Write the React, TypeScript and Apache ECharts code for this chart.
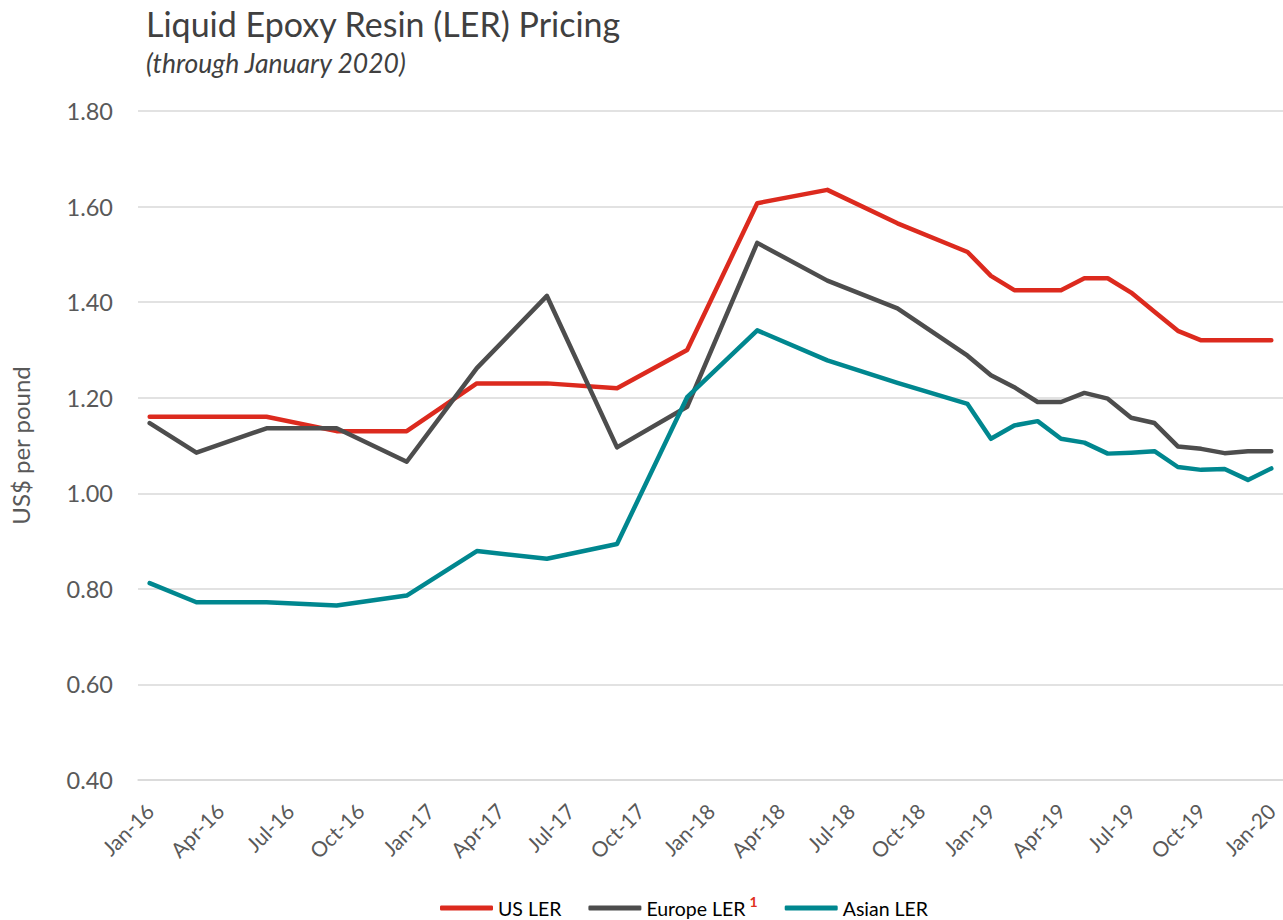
import React, { useEffect, useRef } from "react";
import * as echarts from "echarts";

const MONTH_NAMES = ["Jan", "Feb", "Mar", "Apr", "May", "Jun", "Jul", "Aug", "Sep", "Oct", "Nov", "Dec"];
// Monthly category axis Jan-16 .. Jan-20
const months: string[] = [];
for (let y = 16; y <= 20; y++) {
  for (let m = 0; m < 12; m++) {
    if (y === 20 && m > 0) break;
    months.push(`${MONTH_NAMES[m]}-${y}`);
  }
}

// Observation dates (quarterly through 2018, monthly in 2019)
const periods = [
  "Jan-16", "Mar-16", "Jun-16", "Sep-16", "Dec-16", "Mar-17", "Jun-17", "Sep-17", "Dec-17",
  "Mar-18", "Jun-18", "Sep-18", "Dec-18", "Jan-19", "Feb-19", "Mar-19", "Apr-19", "May-19",
  "Jun-19", "Jul-19", "Aug-19", "Sep-19", "Oct-19", "Nov-19", "Dec-19", "Jan-20",
];

const usLER = [
  1.16, 1.16, 1.16, 1.13, 1.13, 1.23, 1.23, 1.22, 1.3,
  1.607, 1.635, 1.565, 1.505, 1.455, 1.425, 1.425, 1.425, 1.45,
  1.45, 1.42, 1.38, 1.34, 1.32, 1.32, 1.32, 1.32,
];
const europeLER = [
  1.147, 1.085, 1.136, 1.136, 1.066, 1.262, 1.413, 1.096, 1.181,
  1.524, 1.445, 1.387, 1.288, 1.247, 1.222, 1.191, 1.191, 1.21,
  1.198, 1.158, 1.147, 1.098, 1.093, 1.084, 1.088, 1.088,
];
const asianLER = [
  0.812, 0.772, 0.772, 0.765, 0.786, 0.879, 0.863, 0.894, 1.201,
  1.341, 1.278, 1.231, 1.187, 1.114, 1.142, 1.151, 1.114, 1.106,
  1.083, 1.085, 1.088, 1.055, 1.049, 1.051, 1.028, 1.052,
];

const FONT = "Lato, 'Open Sans', sans-serif";
const TEXT = "#595959";
const GRID = "#d9d9d9";

export default function App() {
  const ref = useRef<HTMLDivElement>(null);
  useEffect(() => {
    if (!ref.current) return;
    const chart = echarts.init(ref.current, undefined, { renderer: "svg" });
    const mk = (name: string, vals: number[], color: string) => ({
      name,
      type: "line",
      data: periods.map((p, i) => [p, vals[i]]),
      symbol: "none",
      lineStyle: { color, width: 4.5, cap: "round", join: "round" },
      itemStyle: { color },
    });
    chart.setOption({
      animation: false,
      textStyle: { fontFamily: FONT },
      title: [
        {
          text: "Liquid Epoxy Resin (LER) Pricing",
          left: 141,
          top: 1,
          textStyle: { fontFamily: FONT, fontSize: 34, fontWeight: "normal", color: "#404040" },
        },
        {
          text: "(through January 2020)",
          left: 141,
          top: 44,
          textStyle: { fontFamily: FONT, fontSize: 26.5, fontStyle: "italic", fontWeight: "normal", color: "#404040" },
        },
      ],
      grid: { left: 131, right: -4, top: 111, bottom: 140, containLabel: false },
      xAxis: {
        type: "category",
        data: months,
        boundaryGap: true,
        axisLine: { lineStyle: { color: GRID, width: 1.5 } },
        axisTick: { interval: 2, length: 7, lineStyle: { color: GRID, width: 1.5 } },
        axisLabel: {
          interval: 2,
          rotate: 45,
          margin: 27,
          color: TEXT,
          fontSize: 21,
          fontFamily: FONT,
        },
        splitLine: { show: false },
      },
      yAxis: {
        type: "value",
        min: 0.4,
        max: 1.8,
        interval: 0.2,
        name: "US$ per pound",
        nameLocation: "middle",
        nameGap: 106,
        nameTextStyle: { color: TEXT, fontSize: 24, fontFamily: FONT },
        axisLine: { show: false },
        axisTick: { show: false },
        axisLabel: {
          color: TEXT,
          fontSize: 23.5,
          fontFamily: FONT,
          margin: 25,
          formatter: (v: number) => v.toFixed(2),
        },
        splitLine: { lineStyle: { color: GRID, width: 1.5 } },
      },
      legend: {
        left: 435,
        top: 889,
        icon: "roundRect",
        itemWidth: 53,
        itemHeight: 5,
        itemGap: 27,
        textStyle: {
          color: "#000000",
          fontSize: 19.5,
          fontFamily: FONT,
          rich: {
            sup: {
              color: "#e0301e",
              fontSize: 14,
              fontWeight: "bold",
              fontFamily: FONT,
              verticalAlign: "bottom",
              padding: [0, 0, 14, 4],
            },
          },
        },
        formatter: (name: string) => (name === "Europe LER" ? `${name}{sup|1}` : name),
        data: ["US LER", "Europe LER", "Asian LER"],
      },
      series: [
        mk("US LER", usLER, "#dc2a1e"),
        mk("Europe LER", europeLER, "#4d4d4d"),
        mk("Asian LER", asianLER, "#00878f"),
      ],
    });
    return () => chart.dispose();
  }, []);
  return (
    <div
      ref={ref}
      style={{ position: "absolute", left: 0, top: 0, width: 1283, height: 920, background: "#fff" }}
    />
  );
}
